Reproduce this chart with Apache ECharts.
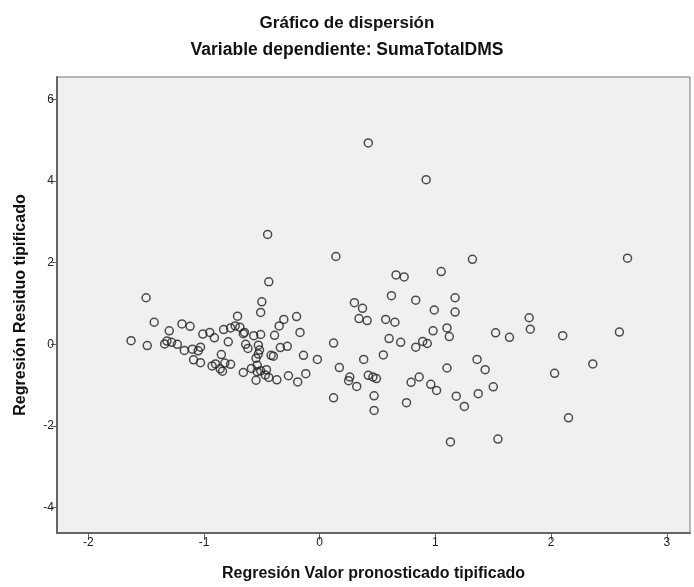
<!DOCTYPE html>
<html>
<head>
<meta charset="utf-8">
<script src="https://cdn.jsdelivr.net/npm/echarts@6/dist/echarts.min.js"></script>
<style>
html,body{margin:0;padding:0;background:#fff;}
#chart{width:694px;height:587px;}
</style>
</head>
<body>
<div id="chart"></div>
<script>
// Regresión Valor pronosticado tipificado (x) vs Regresión Residuo tipificado (y)
var xValues = [
  -1.50,-1.43,-1.30,-1.19,-1.12,-1.63,-1.49,-1.34,-1.32,-1.28,-1.23,-1.17,-1.10,-1.05,-1.03,-1.01,-0.95,-0.91,-0.83,-1.09,-1.03,-0.93,-0.90,-0.85,-0.86,-0.82,
  -0.45,0.14,-0.44,-0.50,-0.51,-0.71,-0.77,-0.73,-0.69,-0.65,-0.66,-0.79,-0.57,-0.51,-0.20,-0.31,-0.35,-0.39,-0.17,0.12,-0.64,-0.62,-0.53,-0.52,-0.53,-0.55,-0.28,-0.34,-0.42,-0.40,-0.14,-0.02,-0.77,-0.66,-0.59,-0.54,-0.54,-0.51,-0.46,-0.47,-0.44,-0.37,-0.55,-0.27,-0.19,-0.12,-0.84,0.17,
  0.42,0.92,1.32,0.66,0.73,1.05,0.62,0.83,1.17,0.30,0.37,0.99,1.17,0.34,0.41,0.57,0.65,0.98,1.10,1.12,0.60,0.70,0.83,0.89,0.93,0.38,0.55,1.36,0.26,0.25,0.32,0.42,0.46,0.49,1.10,0.86,0.79,0.96,1.01,1.37,0.12,0.47,1.18,1.25,0.75,0.47,1.13,
  2.66,1.81,1.82,1.52,1.64,2.10,2.59,1.43,2.03,2.36,1.50,2.15,1.54
];
var yValues = [
  1.14,0.54,0.33,0.50,0.44,0.09,-0.03,0.01,0.08,0.05,0.00,-0.15,-0.12,-0.16,-0.07,0.25,0.29,0.16,0.36,-0.38,-0.45,-0.53,-0.48,-0.25,-0.60,-0.46,
  2.69,2.15,1.53,1.04,0.78,0.69,0.40,0.45,0.42,0.29,0.26,0.06,0.21,0.24,0.68,0.61,0.45,0.22,0.29,0.03,0.00,-0.10,-0.02,-0.14,-0.24,-0.34,-0.05,-0.08,-0.27,-0.29,-0.27,-0.37,-0.49,-0.69,-0.59,-0.51,-0.67,-0.65,-0.62,-0.75,-0.81,-0.87,-0.88,-0.77,-0.92,-0.72,-0.66,-0.57,
  4.93,4.03,2.08,1.70,1.65,1.78,1.19,1.08,1.14,1.02,0.88,0.84,0.79,0.63,0.58,0.61,0.54,0.33,0.40,0.19,0.14,0.05,-0.07,0.07,0.02,-0.37,-0.26,-0.37,-0.80,-0.89,-1.03,-0.76,-0.80,-0.84,-0.58,-0.80,-0.93,-0.98,-1.13,-1.21,-1.31,-1.26,-1.27,-1.52,-1.43,-1.62,-2.39,
  2.11,0.65,0.37,0.28,0.17,0.21,0.30,-0.62,-0.71,-0.48,-1.04,-1.80,-2.32
];
var xTicks = [-2, -1, 0, 1, 2, 3];
var yTicks = [-4, -2, 0, 2, 4, 6];

var titleText = 'Gráfico de dispersión';
var subtitleText = 'Variable dependiente: SumaTotalDMS';
var xName = 'Regresión Valor pronosticado tipificado';
var yName = 'Regresión Residuo tipificado';

var points = xValues.map(function (x, i) { return [x, yValues[i]]; });

var chart = echarts.init(document.getElementById('chart'), null, {renderer: 'canvas'});
var tickFont = {fontFamily: 'Liberation Sans Narrow, Liberation Sans, Arial, sans-serif', fontSize: 12, color: '#222'};
var boldFont = 'Liberation Sans, Arial, sans-serif';
chart.setOption({
  animation: false,
  backgroundColor: '#ffffff',
  title: [
    {text: titleText, left: 'center', top: 10,
     textStyle: {fontFamily: boldFont, fontSize: 17, fontWeight: 'bold', color: '#111'}},
    {text: subtitleText, left: 'center', top: 36,
     textStyle: {fontFamily: boldFont, fontSize: 17.5, fontWeight: 'bold', color: '#111'}}
  ],
  grid: {left: 57, right: 4, top: 77, bottom: 51, show: true,
         backgroundColor: '#f0f0f0', borderColor: '#777', borderWidth: 1},
  xAxis: {
    type: 'value', min: -2.27, max: 3.2,
    name: xName, nameLocation: 'middle', nameGap: 33,
    nameTextStyle: {fontFamily: boldFont, fontSize: 16, fontWeight: 'bold', color: '#111'},
    axisLine: {show: true, onZero: false, lineStyle: {color: '#666', width: 2}},
    axisTick: {show: true, length: 7, customValues: xTicks, lineStyle: {color: '#666', width: 1}},
    axisLabel: Object.assign({customValues: xTicks, margin: 4}, tickFont),
    splitLine: {show: false}
  },
  yAxis: {
    type: 'value', min: -4.62, max: 6.545,
    name: yName, nameLocation: 'middle', nameGap: 28,
    nameTextStyle: {fontFamily: boldFont, fontSize: 16, fontWeight: 'bold', color: '#111'},
    axisLine: {show: true, onZero: false, lineStyle: {color: '#666', width: 2}},
    axisTick: {show: true, length: 6, customValues: yTicks, lineStyle: {color: '#666', width: 1}},
    axisLabel: Object.assign({customValues: yTicks, margin: 3}, tickFont),
    splitLine: {show: false}
  },
  series: [{
    type: 'scatter',
    data: points,
    symbol: 'circle',
    symbolSize: 8,
    itemStyle: {color: 'rgba(0,0,0,0)', borderColor: '#222', borderWidth: 1.5}
  }]
});
</script>
</body>
</html>
